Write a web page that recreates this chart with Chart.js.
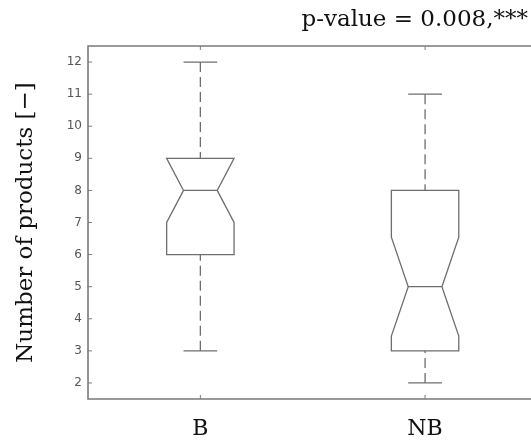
<!DOCTYPE html>
<html>
<head>
<meta charset="utf-8">
<script src="https://cdn.jsdelivr.net/npm/chart.js@4.4.1/dist/chart.umd.min.js"></script>
<style>
  html, body { margin: 0; padding: 0; background: #fff; overflow: hidden; }
  #chart { display: block; }
</style>
</head>
<body>
<canvas id="chart" width="531" height="447"></canvas>
<script>
"use strict";

// groups and their notched boxplot summaries
const categories = ['B', 'NB'];
const whiskerLow = [3, 2];
const q1 = [6, 3];
const median = [8, 5];
const q3 = [9, 8];
const whiskerHigh = [12, 11];
const notchLow = [7, 3.46];
const notchHigh = [9, 6.54];
const yTicks = [2, 3, 4, 5, 6, 7, 8, 9, 10, 11, 12];

const lineColor = '#6e6e6e';
const frameColor = '#7a7a7a';
const boxHalf = 0.15;
const notchHalf = 0.075;
const capHalf = 0.075;

const boxPlugin = {
    id: 'notchedBoxes',
    afterDatasetsDraw(chart) {
        const ctx = chart.ctx;
        const xs = chart.scales.x;
        const ys = chart.scales.y;
        const area = chart.chartArea;
        const px = v => xs.getPixelForValue(v);
        const py = v => ys.getPixelForValue(v);
        ctx.save();

        // frame (right side is cropped off in the original figure)
        ctx.strokeStyle = frameColor;
        ctx.lineWidth = 1.6;
        ctx.beginPath();
        ctx.moveTo(chart.width, area.top);
        ctx.lineTo(area.left, area.top);
        ctx.lineTo(area.left, area.bottom);
        ctx.lineTo(chart.width, area.bottom);
        ctx.stroke();

        // inward ticks
        ctx.lineWidth = 1;
        ctx.beginPath();
        yTicks.forEach(v => {
            ctx.moveTo(area.left, py(v));
            ctx.lineTo(area.left + 4, py(v));
        });
        categories.forEach((c, i) => {
            ctx.moveTo(px(i + 1), area.bottom);
            ctx.lineTo(px(i + 1), area.bottom - 4);
            ctx.moveTo(px(i + 1), area.top);
            ctx.lineTo(px(i + 1), area.top + 4);
        });
        ctx.stroke();

        ctx.strokeStyle = lineColor;
        ctx.lineWidth = 1.3;
        categories.forEach((c, i) => {
            const pos = i + 1;
            const cx = px(pos);
            const bl = px(pos - boxHalf), br = px(pos + boxHalf);
            const nl = px(pos - notchHalf), nr = px(pos + notchHalf);
            const yq1 = py(q1[i]), yq3 = py(q3[i]), ymed = py(median[i]);
            const ynl = py(notchLow[i]), ynh = py(notchHigh[i]);

            ctx.setLineDash([]);
            ctx.beginPath();
            ctx.moveTo(bl, yq1);
            ctx.lineTo(bl, ynl);
            ctx.lineTo(nl, ymed);
            ctx.lineTo(bl, ynh);
            ctx.lineTo(bl, yq3);
            ctx.lineTo(br, yq3);
            ctx.lineTo(br, ynh);
            ctx.lineTo(nr, ymed);
            ctx.lineTo(br, ynl);
            ctx.lineTo(br, yq1);
            ctx.closePath();
            ctx.moveTo(nl, ymed);
            ctx.lineTo(nr, ymed);
            // caps
            ctx.moveTo(px(pos - capHalf), py(whiskerHigh[i]));
            ctx.lineTo(px(pos + capHalf), py(whiskerHigh[i]));
            ctx.moveTo(px(pos - capHalf), py(whiskerLow[i]));
            ctx.lineTo(px(pos + capHalf), py(whiskerLow[i]));
            ctx.stroke();

            // dashed whiskers
            ctx.setLineDash([10, 5]);
            ctx.beginPath();
            ctx.moveTo(cx, py(whiskerHigh[i]));
            ctx.lineTo(cx, yq3);
            ctx.stroke();
            ctx.beginPath();
            ctx.moveTo(cx, py(whiskerLow[i]));
            ctx.lineTo(cx, yq1);
            ctx.stroke();
        });
        ctx.restore();
    }
};

const ctx = document.getElementById('chart');
new Chart(ctx, {
    type: 'scatter',
    data: {
        datasets: [{
            data: median.map((m, i) => ({ x: i + 1, y: m })),
            pointRadius: 0,
            showLine: false
        }]
    },
    options: {
        responsive: false,
        animation: false,
        devicePixelRatio: 1,
        layout: { padding: { right: 3 } },
        plugins: {
            legend: { display: false },
            tooltip: { enabled: false },
            title: {
                display: true,
                text: 'p-value = 0.008,***',
                align: 'end',
                color: '#111',
                font: { family: 'DejaVu Serif', size: 23, weight: 'normal' },
                padding: { top: 6, bottom: 12.4 }
            }
        },
        scales: {
            x: {
                type: 'linear',
                min: 0.5,
                max: 2.458,
                afterBuildTicks: s => { s.ticks = categories.map((c, i) => ({ value: i + 1 })); },
                afterFit: s => { s.height = 48; },
                ticks: {
                    callback: v => categories[v - 1],
                    color: '#111',
                    font: { family: 'DejaVu Serif', size: 22 },
                    padding: 17,
                    maxRotation: 0
                },
                grid: { display: false, drawTicks: false },
                border: { display: false }
            },
            y: {
                min: 1.5,
                max: 12.5,
                afterBuildTicks: s => { s.ticks = yTicks.map(v => ({ value: v })); },
                afterFit: s => { s.width = 88; },
                ticks: {
                    color: '#555',
                    font: { family: 'DejaVu Sans', size: 12 },
                    padding: 6
                },
                grid: { display: false, drawTicks: false },
                border: { display: false },
                title: {
                    display: true,
                    text: 'Number of products [−]',
                    color: '#111',
                    font: { family: 'DejaVu Serif', size: 23 },
                    padding: { top: 12 }
                }
            }
        }
    },
    plugins: [boxPlugin]
});
</script>
</body>
</html>
